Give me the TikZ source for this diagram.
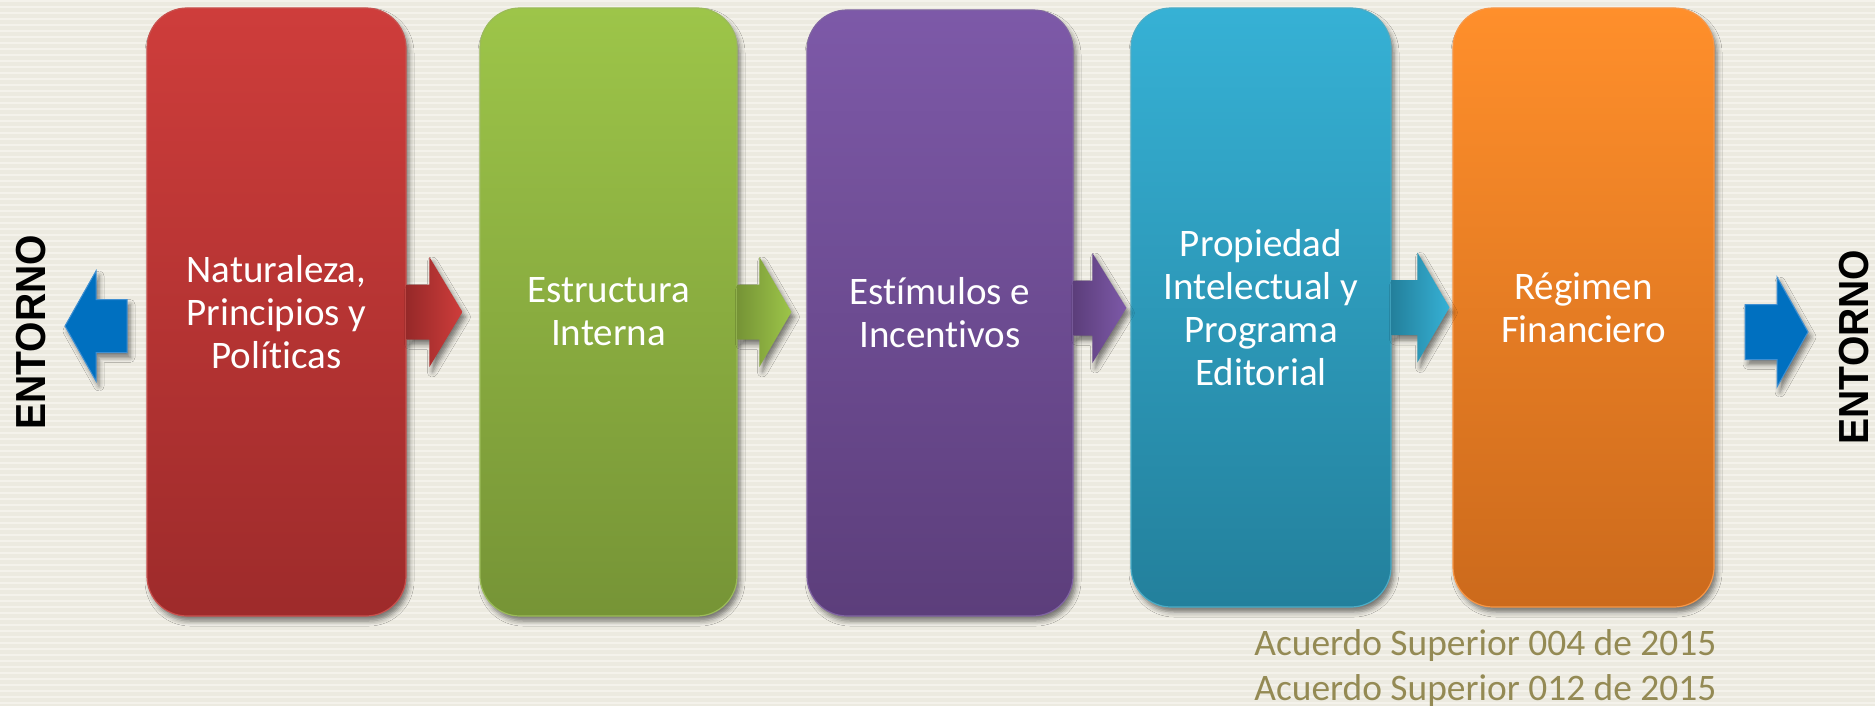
\documentclass[tikz,border=0pt]{standalone}
\usepackage{fontspec}
\setmainfont{Carlito}[Ligatures=NoCommon]
\newfontfamily\entfont{Liberation Sans}
\usetikzlibrary{shadows.blur,calc}
\definecolor{bgc}{HTML}{ECEAE0}
\definecolor{stripec}{HTML}{F4F2EB}
\definecolor{redT}{HTML}{CE3D3B}\definecolor{redB}{HTML}{9E2B2B}\definecolor{redL}{HTML}{C8514E}
\definecolor{grnT}{HTML}{9DC549}\definecolor{grnB}{HTML}{769436}\definecolor{grnL}{HTML}{9BBB59}
\definecolor{purT}{HTML}{7D59A8}\definecolor{purB}{HTML}{5C3E7B}\definecolor{purL}{HTML}{8064A2}
\definecolor{cyaT}{HTML}{36B1D5}\definecolor{cyaB}{HTML}{23809C}\definecolor{cyaL}{HTML}{4BACC6}
\definecolor{oraT}{HTML}{FF8F2B}\definecolor{oraB}{HTML}{CC6A1C}\definecolor{oraL}{HTML}{F79646}
\definecolor{bluA}{HTML}{0070C0}\definecolor{bluL}{HTML}{3F8FD2}
\definecolor{olive}{HTML}{948A54}
\newcommand\rarrow[4][]{% style, start, tip, head length
  \path[#1] let \p1=#2, \p2=#3 in
   (\x1,\y1+13.75pt) -- (\x2-#4,\y1+13.75pt) -- (\x2-#4,\y1+27.5pt) -- (\x2,\y1)
   -- (\x2-#4,\y1-27.5pt) -- (\x2-#4,\y1-13.75pt) -- (\x1,\y1-13.75pt) -- cycle;}
\newcommand\larrow[4][]{% style, start, tip, head length
  \path[#1] let \p1=#2, \p2=#3 in
   (\x1,\y1+13.25pt) -- (\x2+#4,\y1+13.25pt) -- (\x2+#4,\y1+27.5pt) -- (\x2,\y1)
   -- (\x2+#4,\y1-27.5pt) -- (\x2+#4,\y1-13.25pt) -- (\x1,\y1-13.25pt) -- cycle;}
\tikzset{
  shad/.style={blur shadow={shadow xshift=1.5pt, shadow yshift=-2.5pt, shadow blur radius=2.5pt, shadow opacity=50}},
  box/.style={shad, rounded corners=20pt, line width=0.6pt, text=white, align=center,
     font=\fontsize{19.5pt}{21.4pt}\selectfont, inner sep=0pt},
  blockarr/.style={shad, line width=0.5pt},
  ent/.style={font=\entfont\bfseries\fontsize{21pt}{24pt}\selectfont, text=black, inner sep=0pt, rotate=90, anchor=base},
  note/.style={font=\fontsize{18.7pt}{22pt}\selectfont, text=olive, inner sep=0pt, anchor=base west},
  stripe/.style={stripec, line width=1pt}
}
\begin{document}
\begin{tikzpicture}[x=0.5pt,y=-0.5pt]
\useasboundingbox (0,0) rectangle (1875,706);
\fill[bgc] (0,0) rectangle (1875,706);
\foreach \yy in {1,7,...,706} \draw[stripe] (0,\yy) -- (1875,\yy);

\node[box, top color=redT, bottom color=redB, draw=redL, minimum width=129.5pt, minimum height=304pt]
  (n1) at (276.5,312) {Naturaleza,\\Principios y\\Políticas};
\node[box, top color=grnT, bottom color=grnB, draw=grnL, minimum width=128.5pt, minimum height=304pt]
  (n2) at (608.5,312) {Estructura\\Interna};
\node[box, top color=purT, bottom color=purB, draw=purL, minimum width=133pt, minimum height=303pt]
  (n3) at (940,313) {Estímulos e\\Incentivos};
\node[box, top color=cyaT, bottom color=cyaB, draw=cyaL, minimum width=130pt, minimum height=299.5pt]
  (n4) at (1261,307.5) {Propiedad\\Intelectual y\\Programa\\Editorial};
\node[box, top color=oraT, bottom color=oraB, draw=oraL, minimum width=130.5pt, minimum height=299.5pt]
  (n5) at (1583.5,307.5) {Régimen\\Financiero};

\rarrow[blockarr, left color=redB!95!black, right color=redT]{(n1.east)}{($(n2.west)+(-17,0)$)}{16.5pt}
\rarrow[blockarr, left color=grnB, right color=grnT]{(n2.east)}{($(n3.west)+(-15,0)$)}{16pt}
\rarrow[blockarr, left color=purB, right color=purT]{($(n3.east)+(0,-5)$)}{($(n4.west)+(-4,0)$)}{17pt}
\rarrow[blockarr, left color=cyaB, right color=cyaT]{(n4.east)}{($(n5.west)+(-3,0)$)}{16pt}

\coordinate (lbs) at (127,326);
\coordinate (lbt) at (65,326);
\larrow[blockarr, fill=bluA, draw=bluL]{(lbs)}{(lbt)}{15.5pt}
\coordinate (rbs) at (1745,332);
\coordinate (rbt) at (1808,332);
\rarrow[blockarr, fill=bluA, draw=bluL]{(rbs)}{(rbt)}{15.5pt}

\node[ent] (e1) at (45,332.5) {\scalebox{0.93}[1]{ENTORNO}};
\node[ent] (e2) at (1868,347) {\scalebox{0.93}[1]{ENTORNO}};

\node[note] (a1) at (1254,655) {Acuerdo Superior 004 de 2015};
\node[note] (a2) at (1254,700) {Acuerdo Superior 012 de 2015};
\end{tikzpicture}
\end{document}
